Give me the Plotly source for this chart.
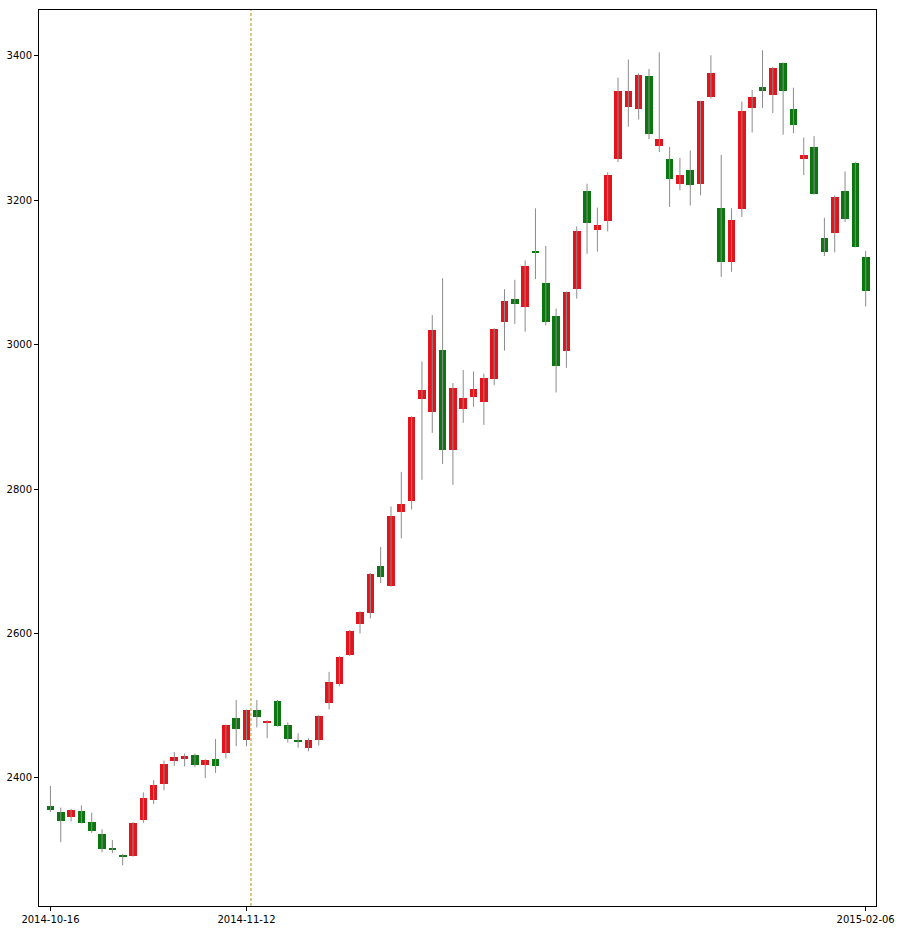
import plotly.graph_objects as go

dates = [
    "2014-10-16", "2014-10-17", "2014-10-20", "2014-10-21", "2014-10-22", "2014-10-23", "2014-10-24",
    "2014-10-27", "2014-10-28", "2014-10-29", "2014-10-30", "2014-10-31",
    "2014-11-03", "2014-11-04", "2014-11-05", "2014-11-06", "2014-11-07",
    "2014-11-10", "2014-11-11", "2014-11-12", "2014-11-13", "2014-11-14",
    "2014-11-17", "2014-11-18", "2014-11-19", "2014-11-20", "2014-11-21",
    "2014-11-24", "2014-11-25", "2014-11-26", "2014-11-27", "2014-11-28",
    "2014-12-01", "2014-12-02", "2014-12-03", "2014-12-04", "2014-12-05",
    "2014-12-08", "2014-12-09", "2014-12-10", "2014-12-11", "2014-12-12",
    "2014-12-15", "2014-12-16", "2014-12-17", "2014-12-18", "2014-12-19",
    "2014-12-22", "2014-12-23", "2014-12-24", "2014-12-25", "2014-12-26",
    "2014-12-29", "2014-12-30", "2014-12-31",
    "2015-01-05", "2015-01-06", "2015-01-07", "2015-01-08", "2015-01-09",
    "2015-01-12", "2015-01-13", "2015-01-14", "2015-01-15", "2015-01-16",
    "2015-01-19", "2015-01-20", "2015-01-21", "2015-01-22", "2015-01-23",
    "2015-01-26", "2015-01-27", "2015-01-28", "2015-01-29", "2015-01-30",
    "2015-02-02", "2015-02-03", "2015-02-04", "2015-02-05", "2015-02-06",
]

opens = [2361, 2353, 2346, 2354, 2339, 2322, 2303, 2293, 2292, 2342,
         2370, 2392, 2424, 2426, 2432, 2418, 2427, 2435, 2483, 2453,
         2494, 2477, 2507, 2473, 2452, 2442, 2452, 2504, 2530, 2570,
         2613, 2629, 2693, 2666, 2768, 2783, 2925, 2907, 2993, 2854,
         2911, 2928, 2921, 2953, 3031, 3063, 3053, 3130, 3085, 3040,
         2992, 3077, 3213, 3159, 3172, 3257, 3330, 3326, 3372, 3276,
         3258, 3223, 3242, 3223, 3343, 3189, 3114, 3188, 3328, 3357,
         3346, 3390, 3327, 3257, 3274, 3148, 3155, 3213, 3252, 3121]
highs = [2389, 2359, 2357, 2362, 2352, 2329, 2314, 2295, 2339, 2380,
         2397, 2424, 2436, 2434, 2434, 2426, 2454, 2474, 2508, 2495,
         2508, 2480, 2508, 2477, 2462, 2455, 2487, 2547, 2569, 2605,
         2631, 2684, 2720, 2776, 2824, 2901, 2977, 3041, 3092, 2947,
         2965, 2963, 2960, 3023, 3077, 3090, 3117, 3189, 3137, 3050,
         3074, 3164, 3223, 3190, 3239, 3370, 3395, 3376, 3382, 3405,
         3274, 3259, 3269, 3338, 3401, 3263, 3189, 3337, 3353, 3408,
         3385, 3391, 3356, 3287, 3289, 3176, 3207, 3240, 3253, 3130]
lows = [2353, 2311, 2340, 2337, 2324, 2297, 2296, 2279, 2291, 2338,
        2364, 2383, 2417, 2416, 2415, 2400, 2407, 2427, 2444, 2444,
        2470, 2455, 2471, 2449, 2442, 2437, 2445, 2495, 2527, 2569,
        2600, 2621, 2670, 2665, 2732, 2772, 2813, 2878, 2835, 2806,
        2892, 2914, 2889, 2944, 2992, 3029, 3018, 3091, 3027, 2934,
        2968, 3064, 3126, 3129, 3157, 3253, 3302, 3312, 3285, 3267,
        3191, 3214, 3193, 3207, 3341, 3094, 3101, 3177, 3294, 3328,
        3321, 3291, 3293, 3235, 3208, 3123, 3128, 3170, 3135, 3053]
closes = [2355, 2340, 2356, 2338, 2326, 2301, 2301, 2290, 2338, 2372,
          2390, 2419, 2429, 2430, 2418, 2425, 2417, 2473, 2468, 2494,
          2485, 2479, 2472, 2454, 2450, 2453, 2486, 2533, 2568, 2604,
          2630, 2683, 2679, 2763, 2780, 2900, 2937, 3020, 2854, 2940,
          2926, 2939, 2954, 3022, 3061, 3057, 3109, 3127, 3032, 2971,
          3073, 3158, 3168, 3166, 3235, 3352, 3352, 3374, 3292, 3285,
          3229, 3235, 3221, 3337, 3376, 3115, 3173, 3324, 3343, 3351,
          3384, 3352, 3304, 3263, 3209, 3128, 3205, 3174, 3136, 3075]

tick_dates = ["2014-10-16", "2014-11-12", "2015-02-06"]
marker_date = "2014-11-12"

UP = "#e3141b"
DOWN = "#0a780f"
WICK = "#8c8c8c"

# wicks
wx, wy = [], []
for d, h, l in zip(dates, highs, lows):
    wx += [d, d, None]
    wy += [l, h, None]

bases = [min(o, c) for o, c in zip(opens, closes)]
heights = [max(abs(c - o), 1.5) for o, c in zip(opens, closes)]
colors = [UP if c >= o else DOWN for o, c in zip(opens, closes)]

fig = go.Figure()
fig.add_trace(go.Scatter(x=wx, y=wy, mode="lines",
                         line=dict(color=WICK, width=1), hoverinfo="skip",
                         showlegend=False))
fig.add_trace(go.Bar(x=dates, y=heights, base=bases, width=0.74,
                     marker=dict(color=colors, line=dict(width=0)),
                     showlegend=False))

marker_idx = dates.index(marker_date) + 0.43
fig.add_shape(type="line", xref="x", yref="paper",
              x0=marker_idx, x1=marker_idx, y0=0, y1=1,
              line=dict(color="#b8920b", width=1, dash="3px,2px"))

fig.update_layout(
    width=902, height=930,
    margin=dict(l=39, r=26, t=10, b=24, autoexpand=False),
    paper_bgcolor="white", plot_bgcolor="white",
    font=dict(family="DejaVu Sans", size=10, color="black"),
    bargap=0,
)
fig.update_xaxes(type="category", categoryorder="array", categoryarray=dates,
                 range=[-1.11, 80.0], automargin=False,
                 tickmode="array", tickvals=tick_dates, ticktext=tick_dates,
                 ticks="outside", ticklen=4, tickcolor="black",
                 showline=True, linecolor="black", linewidth=1, mirror=True,
                 showgrid=False, zeroline=False)
fig.update_yaxes(range=[2222.7, 3463.7], automargin=False,
                 tickmode="array", tickvals=[2400, 2600, 2800, 3000, 3200, 3400],
                 ticks="outside", ticklen=4, tickcolor="black",
                 showline=True, linecolor="black", linewidth=1, mirror=True,
                 showgrid=False, zeroline=False)

fig.write_html("out.html", config={"displayModeBar": False},
               post_script="document.body.style.margin='0';document.body.style.overflow='hidden';")
